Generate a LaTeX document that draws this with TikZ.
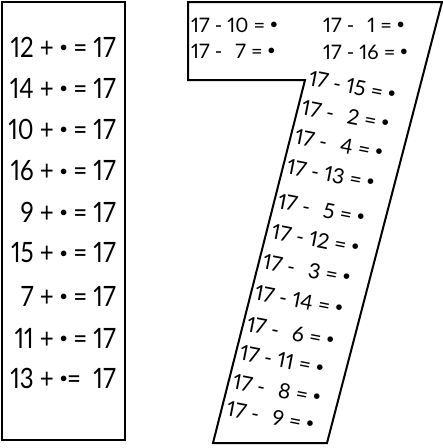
\documentclass[tikz,border=0pt]{standalone}
\usepackage{fontspec}
\setmainfont[Numbers=Proportional]{Lato}
\newfontfamily\narrowfont[Numbers=Proportional,FakeStretch=0.86]{Lato}
\usepackage{tikz}
\usetikzlibrary{positioning}

\newcommand{\blankdot}{\raisebox{0.2em}{\fontsize{15}{15}\selectfont$\bullet$}}

\begin{document}
\begin{tikzpicture}[x=1pt, y=-1pt]
\tikzset{
  addeq/.style={anchor=east, inner sep=0pt, font=\narrowfont\fontsize{28}{30}\selectfont},
  subeq/.style={anchor=west, inner sep=0pt, font=\fontsize{20}{22}\selectfont},
  slanteq/.style={anchor=west, inner sep=0pt, rotate=-11, font=\fontsize{21}{23}\selectfont}
}
\useasboundingbox (0,0) rectangle (443,448);

% Left card
\draw[line width=2pt] (2,2) rectangle (125,440);
\node[addeq] (a1) at (116, 47) {12 + \blankdot\ = 17};
\node[addeq] (a2) at (116, 88) {14 + \blankdot\ = 17};
\node[addeq] (a3) at (116,129) {10 + \blankdot\ = 17};
\node[addeq] (a4) at (116,171) {16 + \blankdot\ = 17};
\node[addeq] (a5) at (116,212) {9 + \blankdot\ = 17};
\node[addeq] (a6) at (116,253) {15 + \blankdot\ = 17};
\node[addeq] (a7) at (116,296) {7 + \blankdot\ = 17};
\node[addeq] (a8) at (116,338) {11 + \blankdot\ = 17};
\node[addeq] (a9) at (116,378) {13 + \blankdot= \ 17};

% Seven
\draw[line width=2pt] (188,2) -- (442,2) -- (327,443) -- (213,443)
  -- (305,80) -- (188,80) -- cycle;

% Top bar
\node[subeq] (s1) at (191,25) {17 - 10 = \blankdot};
\node[subeq] (s2) at (191,51) {17 - \phantom{1}7 = \blankdot};
\node[subeq] (s3) at (323,25) {17 - \phantom{1}1 = \blankdot};
\node[subeq] (s4) at (323,52) {17 - 16 = \blankdot};

% Stem
\node[slanteq] (t1)  at (309, 78) {17 - 15 = \blankdot};
\node[slanteq] (t2)  at (302,107) {17 - \phantom{1}2 = \blankdot};
\node[slanteq] (t3)  at (295,136) {17 - \phantom{1}4 = \blankdot};
\node[slanteq] (t4)  at (287,166) {17 - 13 = \blankdot};
\node[slanteq] (t5)  at (278,201) {17 - \phantom{1}5 = \blankdot};
\node[slanteq] (t6)  at (272,231) {17 - 12 = \blankdot};
\node[slanteq] (t7)  at (263,261) {17 - \phantom{1}3 = \blankdot};
\node[slanteq] (t8)  at (255,292) {17 - 14 = \blankdot};
\node[slanteq] (t9)  at (247,324) {17 - \phantom{1}6 = \blankdot};
\node[slanteq] (t10) at (240,352) {17 - 11 = \blankdot};
\node[slanteq] (t11) at (233,381) {17 - \phantom{1}8 = \blankdot};
\node[slanteq] (t12) at (227,408) {17 - \phantom{1}9 = \blankdot};

\end{tikzpicture}
\end{document}
